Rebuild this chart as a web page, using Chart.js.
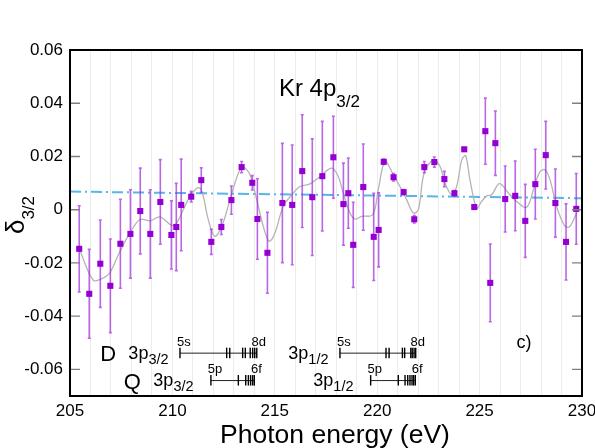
<!DOCTYPE html>
<html>
<head>
<meta charset="utf-8">
<script src="https://cdn.jsdelivr.net/npm/chart.js@4.4.1/dist/chart.umd.min.js"></script>
<style>
html,body{margin:0;padding:0;background:#fff;}
#wrap{width:595px;height:448px;}
</style>
</head>
<body>
<div id="wrap"><canvas id="c" width="595" height="448"></canvas></div>
<script>
// ---- data ----
const energy = [205.45,205.94,206.48,206.97,207.46,207.95,208.43,208.92,209.41,209.95,210.19,210.43,
  210.92,211.41,211.90,212.39,212.88,213.38,213.90,214.15,214.64,215.37,215.85,216.34,
  216.83,217.32,217.86,218.35,218.59,218.83,219.32,219.83,220.07,220.32,220.80,221.29,221.81,222.30,
  222.79,223.28,223.77,224.25,224.74,225.28,225.52,225.77,226.25,226.74,227.23,227.72,228.23,228.70,229.22,229.72];
const delta = [-0.0147,-0.0316,-0.0203,-0.0286,-0.0128,-0.0091,-0.0005,-0.0091,0.0029,-0.0095,-0.0065,0.0018,
  0.0049,0.0111,-0.0121,-0.0065,0.0036,0.0160,0.0101,-0.0035,-0.0162,0.0025,0.0018,0.0145,
  0.0047,0.0126,0.0197,0.0021,0.0062,-0.0132,0.0085,-0.0102,-0.0076,0.0180,0.0122,0.0066,-0.0036,0.0160,
  0.0179,0.0115,0.0062,0.0227,0.0010,0.0295,-0.0275,0.0250,0.0040,0.0052,-0.0042,0.0096,0.0205,0.0025,-0.0121,0.0003];
const deltaErr = [0.0162,0.0167,0.0164,0.0176,0.0167,0.0166,0.0161,0.0166,0.0159,0.0128,0.0164,0.0172,
  0.0020,0.0046,0.0047,0.0028,0.0053,0.0021,0.0027,0.0151,0.0152,0.0224,0.0225,0.0212,
  0.0219,0.0206,0.0154,0.0154,0.0132,0.0160,0.0162,0.0164,0.0139,0.0010,0.0014,0.0010,0.0014,0.0021,
  0.0019,0.0029,0.0010,0.0000,0.0000,0.0124,0.0146,0.0121,0.0124,0.0131,0.0137,0.0131,0.0127,0.0128,0.0143,0.0133];

const fitEnergy = [205.45,206.14,206.63,206.95,207.44,207.93,208.42,208.91,209.39,209.97,210.21,210.53,210.86,211.19,211.35,
  211.51,211.75,212.07,212.41,212.81,213.22,213.46,213.79,214.12,214.44,214.73,215.01,215.41,215.83,216.23,
  216.72,217.21,217.78,218.10,218.34,218.67,218.92,219.24,219.78,220.05,220.38,220.79,221.11,221.44,221.76,
  222.01,222.29,222.74,223.07,223.31,223.64,223.88,224.13,224.32,224.53,224.86,225.10,225.35,225.59,225.91,226.08,
  226.40,226.81,227.30,227.70,227.95,228.19,228.44,228.76,229.17,229.41,229.74];
const fitDelta = [-0.0147,-0.0265,-0.0256,-0.0237,-0.0156,-0.0087,-0.0037,-0.0042,-0.0027,-0.0059,-0.0050,0.0000,0.0050,0.0081,0.0081,
  0.0050,-0.0037,-0.0100,-0.0063,0.0037,0.0137,0.0160,0.0131,0.0037,-0.0063,-0.0119,-0.0087,0.0012,0.0056,0.0087,
  0.0097,0.0125,0.0156,0.0125,0.0063,-0.0012,-0.0035,-0.0025,-0.0019,0.0075,0.0181,0.0131,0.0087,0.0037,-0.0012,
  0.0000,0.0137,0.0187,0.0162,0.0100,0.0056,0.0087,0.0187,0.0203,0.0112,0.0006,0.0031,0.0052,0.0056,0.0096,0.0094,
  0.0063,0.0031,0.0009,0.0094,0.0143,0.0150,0.0112,0.0012,-0.0063,-0.0063,-0.0012];

const trendEnergy = [205, 230];
const trendDelta = [0.0068, 0.0043];

const xTickValues = [205,206,207,208,209,210,211,212,213,214,215,216,217,218,219,220,221,222,223,224,225,226,227,228,229,230];
const xTickLabels = [205,210,215,220,225,230];
const yTickLabels = [-0.06,-0.04,-0.02,0,0.02,0.04,0.06];

// Rydberg series markers (eV)
const dLevels32 = [210.37,212.65,212.80,213.43,213.56,213.80,213.92,214.02,214.12];
const qLevels32 = [211.88,213.22,213.58,213.71,213.82,213.92,214.00];
const dLevels12 = [218.18,220.43,220.58,221.23,221.34,221.64,221.71,221.80,221.88];
const qLevels12 = [219.68,221.03,221.36,221.49,221.60,221.70,221.78,221.86];

const FONT = '"Liberation Sans", Arial, Helvetica, sans-serif';

const overlay = {
  id: 'overlay',
  beforeDatasetDraw(chart, args) {
    if (args.index !== 0) return;
    const ctx = chart.ctx, xs = chart.scales.x, ys = chart.scales.y;
    ctx.save();
    ctx.strokeStyle = 'rgba(160, 45, 222, 0.72)';
    ctx.lineWidth = 1.6;
    for (let i = 0; i < energy.length; i++) {
      if (!deltaErr[i]) continue;
      const px = xs.getPixelForValue(energy[i]);
      const y1 = ys.getPixelForValue(delta[i] + deltaErr[i]);
      const y2 = ys.getPixelForValue(delta[i] - deltaErr[i]);
      ctx.beginPath();
      ctx.moveTo(px, y1); ctx.lineTo(px, y2);
      ctx.moveTo(px - 1.5, y1); ctx.lineTo(px + 1.5, y1);
      ctx.moveTo(px - 1.5, y2); ctx.lineTo(px + 1.5, y2);
      ctx.stroke();
    }
    ctx.restore();
  },
  afterDraw(chart) {
    const ctx = chart.ctx, a = chart.chartArea, xs = chart.scales.x, ys = chart.scales.y;
    ctx.save();
    // inner tick marks on y (left and right)
    ctx.strokeStyle = '#808080';
    ctx.lineWidth = 1.4;
    ys.ticks.forEach(t => {
      const py = ys.getPixelForValue(t.value);
      ctx.beginPath();
      ctx.moveTo(a.left, py); ctx.lineTo(a.left + 10, py);
      ctx.moveTo(a.right, py); ctx.lineTo(a.right - 10, py);
      ctx.stroke();
    });
    // frame
    ctx.strokeStyle = '#000';
    ctx.lineWidth = 2;
    ctx.strokeRect(a.left, a.top, a.right - a.left, a.bottom - a.top);

    // x axis title
    ctx.fillStyle = '#000';
    ctx.font = '26.5px ' + FONT;
    ctx.textAlign = 'center';
    ctx.textBaseline = 'alphabetic';
    ctx.fillText('Photon energy (eV)', (a.left + a.right) / 2 + 9, 443);

    // title in plot
    ctx.textAlign = 'left';
    let tx = xs.getPixelForValue(215.2), ty = ys.getPixelForValue(0.0427);
    ctx.font = '24px ' + FONT;
    ctx.fillText('Kr 4p', tx, ty);
    tx += ctx.measureText('Kr 4p').width;
    ctx.font = '17px ' + FONT;
    ctx.fillText('3/2', tx, ty + 11);

    // y axis title (rotated)
    ctx.save();
    ctx.translate(24, (a.top + a.bottom) / 2 - 8);
    ctx.rotate(-Math.PI / 2);
    ctx.font = '26px ' + FONT;
    const wd = ctx.measureText('δ').width;
    ctx.font = '17px ' + FONT;
    const ws = ctx.measureText('3/2').width;
    const start = -(wd + ws) / 2;
    ctx.font = '26px ' + FONT;
    ctx.fillText('δ', start, 0);
    ctx.font = '17px ' + FONT;
    ctx.fillText('3/2', start + wd, 10);
    ctx.restore();

    // series markers
    const rowD = ys.getPixelForValue(-0.0539);
    const rowQ = ys.getPixelForValue(-0.0642);
    function series(levels, rowY, first, last) {
      const xsP = levels.map(v => xs.getPixelForValue(v));
      ctx.strokeStyle = '#222';
      ctx.lineWidth = 1;
      ctx.beginPath();
      ctx.moveTo(xsP[0], rowY); ctx.lineTo(xsP[xsP.length - 1], rowY);
      ctx.stroke();
      ctx.strokeStyle = '#000';
      ctx.lineWidth = 1.4;
      xsP.forEach(p => {
        ctx.beginPath(); ctx.moveTo(p, rowY - 5.5); ctx.lineTo(p, rowY + 5); ctx.stroke();
      });
      ctx.font = '13px ' + FONT;
      ctx.textAlign = 'center';
      ctx.fillStyle = '#000';
      ctx.fillText(first, xsP[0] + 4, rowY - 7.5);
      ctx.fillText(last, xsP[xsP.length - 1] + 2, rowY - 7.5);
      ctx.textAlign = 'left';
    }
    function label(txt, sub, eV, rowY) {
      const p = xs.getPixelForValue(eV);
      ctx.font = '18px ' + FONT;
      ctx.fillText(txt, p, rowY + 5.5);
      const w = ctx.measureText(txt).width;
      ctx.font = '14.5px ' + FONT;
      ctx.fillText(sub, p + w, rowY + 10.5);
    }
    ctx.fillStyle = '#000';
    ctx.font = '22px ' + FONT;
    ctx.fillText('D', xs.getPixelForValue(206.48), rowD + 8);
    ctx.fillText('Q', xs.getPixelForValue(207.62), rowQ + 8);
    label('3p', '3/2', 207.85, rowD);
    label('3p', '3/2', 209.07, rowQ);
    label('3p', '1/2', 215.66, rowD);
    label('3p', '1/2', 216.88, rowQ);
    series(dLevels32, rowD, '5s', '8d');
    series(qLevels32, rowQ, '5p', '6f');
    series(dLevels12, rowD, '5s', '8d');
    series(qLevels12, rowQ, '5p', '6f');
    ctx.font = '18px ' + FONT;
    ctx.fillText('c)', xs.getPixelForValue(226.8), ys.getPixelForValue(-0.0521));
    ctx.restore();
  }
};

new Chart(document.getElementById('c'), {
  type: 'scatter',
  data: {
    datasets: [
      {
        label: 'delta',
        data: energy.map((e, i) => ({ x: e, y: delta[i] })),
        pointStyle: 'rect',
        pointRadius: 4.3,
        pointBackgroundColor: '#9400d3',
        pointBorderColor: '#9400d3',
        pointBorderWidth: 0,
        showLine: false
      },
      {
        label: 'fit',
        data: fitEnergy.map((e, i) => ({ x: e, y: fitDelta[i] })),
        showLine: true,
        borderColor: '#b4b4b4',
        borderWidth: 1.3,
        pointRadius: 0,
        tension: 0.35,
        cubicInterpolationMode: 'default'
      },
      {
        label: 'trend',
        data: trendEnergy.map((e, i) => ({ x: e, y: trendDelta[i] })),
        showLine: true,
        borderColor: '#55b6ea',
        borderWidth: 2,
        borderDash: [11, 4, 2, 4],
        pointRadius: 0
      }
    ]
  },
  options: {
    responsive: false,
    animation: false,
    devicePixelRatio: 1,
    layout: { padding: { top: 50, right: 13, left: 0, bottom: 0 } },
    plugins: { legend: { display: false }, tooltip: { enabled: false }, title: { display: false } },
    scales: {
      x: {
        type: 'linear',
        min: 205, max: 230,
        afterBuildTicks: s => { s.ticks = xTickValues.map(v => ({ value: v })); },
        afterFit: s => { s.height = 52; s.paddingLeft = 0; s.paddingRight = 0; },
        grid: { color: '#ececec', lineWidth: 1, drawTicks: false },
        border: { display: false },
        ticks: {
          autoSkip: false, maxRotation: 0, padding: 5,
          color: '#000',
          font: { family: FONT, size: 17 },
          callback: v => xTickLabels.includes(v) ? String(v) : ''
        },
        title: { display: false }
      },
      y: {
        type: 'linear',
        min: -0.07, max: 0.06,
        afterBuildTicks: s => { s.ticks = yTickLabels.map(v => ({ value: v })); },
        afterFit: s => { s.width = 70; s.paddingTop = 0; s.paddingBottom = 0; },
        grid: { display: false, drawTicks: false },
        border: { display: false },
        ticks: {
          padding: 7, color: '#000',
          font: { family: FONT, size: 17 },
          callback: v => Math.abs(v) < 1e-9 ? '0' : v.toFixed(2)
        }
      }
    }
  },
  plugins: [overlay]
});
</script>
</body>
</html>
